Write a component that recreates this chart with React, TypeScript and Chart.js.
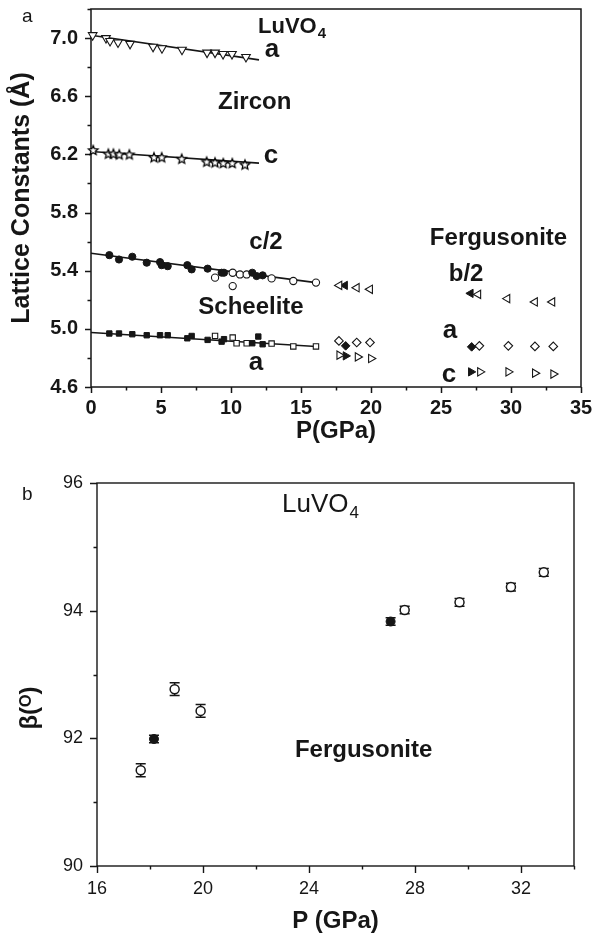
import React, { useEffect, useRef } from 'react';
import { Chart, registerables } from 'chart.js';

Chart.register(...registerables);

const FF = '"Liberation Sans", Arial, Helvetica, sans-serif';
const INK = '#161616';

// ---------- Panel a : lattice constants vs pressure ----------
const xTicksA = [0, 5, 10, 15, 20, 25, 30, 35];
const xMinorA = [2.5, 7.5, 12.5, 17.5, 22.5, 27.5, 32.5];
const yTicksA = [4.6, 5.0, 5.4, 5.8, 6.2, 6.6, 7.0];
const yMinorA = [4.8, 5.2, 5.6, 6.0, 6.4, 6.8, 7.2];

// Zircon phase
const zirconP = [0.12, 1.07, 1.36, 1.93, 2.79, 4.43, 5.07, 6.5, 8.29, 8.86, 9.43, 10.07, 11.07];
const zirconA = [7.02, 7.0, 6.98, 6.97, 6.96, 6.94, 6.93, 6.92, 6.9, 6.9, 6.89, 6.89, 6.87];
const zirconCP = [0.16, 1.24, 1.6, 2.02, 2.74, 4.5, 5.05, 6.48, 8.26, 8.86, 9.45, 10.09, 11.0];
const zirconC = [6.23, 6.205, 6.205, 6.2, 6.2, 6.18, 6.18, 6.17, 6.15, 6.145, 6.14, 6.14, 6.13];

// Scheelite phase
const schC2FilledP = [1.31, 2.0, 2.95, 3.98, 4.93, 5.05, 5.48, 6.88, 7.19, 8.33, 9.33, 9.5, 11.52, 11.83, 12.26];
const schC2Filled = [5.507, 5.477, 5.496, 5.455, 5.459, 5.438, 5.431, 5.438, 5.409, 5.414, 5.386, 5.386, 5.386, 5.363, 5.368];
const schC2OpenP = [8.86, 10.12, 10.12, 10.64, 11.12, 12.9, 14.45, 16.07];
const schC2Open = [5.352, 5.386, 5.294, 5.374, 5.374, 5.347, 5.329, 5.318];
const schAFilledP = [1.31, 2.0, 2.95, 3.98, 4.93, 5.48, 6.88, 7.19, 8.33, 9.33, 9.5, 11.52, 11.95, 12.26];
const schAFilled = [4.968, 4.968, 4.963, 4.956, 4.956, 4.956, 4.935, 4.951, 4.924, 4.912, 4.929, 4.901, 4.947, 4.894];
const schAOpenP = [8.86, 10.12, 10.4, 11.12, 12.9, 14.45, 16.07];
const schAOpen = [4.951, 4.94, 4.901, 4.901, 4.899, 4.879, 4.879];

// Fergusonite phase
const ferB2OpenP = [17.74, 18.98, 19.93, 27.66, 29.74, 31.71, 32.95];
const ferB2Open = [5.299, 5.283, 5.272, 5.237, 5.208, 5.185, 5.185];
const ferB2FilledP = [18.14, 27.12];
const ferB2Filled = [5.299, 5.244];
const ferAOpenP = [17.71, 18.98, 19.93, 27.74, 29.81, 31.71, 33.02];
const ferAOpen = [4.917, 4.906, 4.906, 4.883, 4.883, 4.879, 4.879];
const ferAFilledP = [18.19, 27.19];
const ferAFilled = [4.883, 4.876];
const ferCOpenP = [17.74, 19.05, 20.0, 27.79, 29.81, 31.71, 33.02];
const ferCOpen = [4.819, 4.807, 4.796, 4.704, 4.704, 4.695, 4.689];
const ferCFilledP = [18.19, 27.14];
const ferCFilled = [4.814, 4.704];

// Linear fits
const fitZirconAP = [0, 12];
const fitZirconA = [7.02, 6.85];
const fitZirconCP = [0, 12];
const fitZirconC = [6.22, 6.14];
const fitSchC2P = [0, 16.07];
const fitSchC2 = [5.52, 5.318];
const fitSchAP = [0, 16.07];
const fitSchA = [4.975, 4.879];

// ---------- Panel b : monoclinic angle beta ----------
const xTicksB = [16, 20, 24, 28, 32];
const xMinorB = [18, 22, 26, 30, 34];
const yTicksB = [90, 92, 94, 96];
const yMinorB = [91, 93, 95];

const betaOpenP = [17.65, 18.93, 19.91, 27.61, 29.68, 31.62, 32.86];
const betaOpen = [91.5, 92.77, 92.43, 94.01, 94.13, 94.37, 94.6];
const betaOpenErr = [0.1, 0.1, 0.1, 0.06, 0.06, 0.06, 0.06];
const betaFilledP = [18.15, 27.08];
const betaFilled = [91.99, 93.83];
const betaFilledErr = [0.06, 0.06];

const pts = (xs: number[], ys: number[]) => xs.map((x, i) => ({ x, y: ys[i] }));

function makeStar(r: number) {
  const size = Math.ceil(r * 2 + 4);
  const c = document.createElement('canvas');
  c.width = size;
  c.height = size;
  const g = c.getContext('2d')!;
  const cx = size / 2;
  const cy = size / 2 + 0.5;
  g.beginPath();
  for (let i = 0; i < 10; i++) {
    const ang = -Math.PI / 2 + (i * Math.PI) / 5;
    const rr = i % 2 === 0 ? r : r * 0.45;
    g.lineTo(cx + rr * Math.cos(ang), cy + rr * Math.sin(ang));
  }
  g.closePath();
  g.fillStyle = '#fff';
  g.fill();
  g.strokeStyle = '#000';
  g.lineWidth = 1.25;
  g.stroke();
  return c;
}

const framePlugin = {
  id: 'frame',
  beforeDatasetsDraw(chart: any, _a: any, o: any) {
    const { ctx, chartArea: a } = chart;
    const x = chart.scales.x;
    const y = chart.scales.y;
    ctx.save();
    ctx.strokeStyle = INK;
    ctx.lineWidth = o.lw;
    ctx.strokeRect(a.left, a.top, a.right - a.left, a.bottom - a.top);
    ctx.beginPath();
    const tx = (vals: number[], len: number) => vals.forEach((v) => {
      const p = Math.round(x.getPixelForValue(v)) + 0.5;
      ctx.moveTo(p, a.bottom);
      ctx.lineTo(p, a.bottom + len);
    });
    const ty = (vals: number[], len: number) => vals.forEach((v) => {
      const p = Math.round(y.getPixelForValue(v)) + 0.5;
      ctx.moveTo(a.left, p);
      ctx.lineTo(a.left - len, p);
    });
    tx(o.xMajor, o.major);
    tx(o.xMinor, o.minor);
    ty(o.yMajor, o.major);
    ty(o.yMinor, o.minor);
    ctx.stroke();
    ctx.restore();
  },
};

const errorPlugin = {
  id: 'errbars',
  beforeDatasetsDraw(chart: any) {
    const { ctx } = chart;
    const x = chart.scales.x;
    const y = chart.scales.y;
    ctx.save();
    ctx.strokeStyle = INK;
    ctx.lineWidth = 1.5;
    chart.data.datasets.forEach((ds: any) => {
      if (!ds.errors) return;
      ds.data.forEach((p: any, i: number) => {
        const e = ds.errors[i];
        const px = x.getPixelForValue(p.x);
        const y1 = y.getPixelForValue(p.y + e);
        const y2 = y.getPixelForValue(p.y - e);
        ctx.beginPath();
        ctx.moveTo(px, y1);
        ctx.lineTo(px, y2);
        ctx.moveTo(px - 5, y1);
        ctx.lineTo(px + 5, y1);
        ctx.moveTo(px - 5, y2);
        ctx.lineTo(px + 5, y2);
        ctx.stroke();
      });
    });
    ctx.restore();
  },
};

const textPlugin = {
  id: 'texts',
  afterDraw(chart: any, _a: any, o: any) {
    const { ctx } = chart;
    const x = chart.scales.x;
    const y = chart.scales.y;
    ctx.save();
    ctx.fillStyle = INK;
    ctx.textBaseline = 'alphabetic';
    (o.items || []).forEach((it: any) => {
      const px = it.px !== undefined ? it.px : x.getPixelForValue(it.x);
      const py = it.py !== undefined ? it.py : y.getPixelForValue(it.y);
      ctx.font = it.font;
      ctx.textAlign = it.align || 'left';
      if (it.rot) {
        ctx.save();
        ctx.translate(px, py);
        ctx.rotate(it.rot);
        ctx.textAlign = 'center';
        ctx.fillText(it.t, 0, 0);
        ctx.restore();
      } else {
        ctx.fillText(it.t, px, py);
        if (it.sub) {
          const w = ctx.measureText(it.t).width;
          ctx.font = it.subFont;
          ctx.textAlign = 'left';
          ctx.fillText(it.sub, (it.align === 'center' ? px + w / 2 : px + w) + 1, py + it.subDy);
        }
      }
    });
    ctx.restore();
  },
};

const bold = (s: number) => `bold ${s}px ${FF}`;
const reg = (s: number) => `normal ${s}px ${FF}`;

export default function App() {
  const refA = useRef<HTMLCanvasElement>(null);
  const refB = useRef<HTMLCanvasElement>(null);

  useEffect(() => {
    const star = makeStar(5);
    const open = (data: any, style: any, r: number, rot = 0) => ({
      data, pointStyle: style, pointRadius: r, pointRotation: rot,
      backgroundColor: '#ffffff', borderColor: INK, pointBorderWidth: 1.1, borderWidth: 1.1, clip: false,
    });
    const filled = (data: any, style: any, r: number, rot = 0) => ({
      data, pointStyle: style, pointRadius: r, pointRotation: rot,
      backgroundColor: INK, borderColor: INK, pointBorderWidth: 1, borderWidth: 1, clip: false,
    });
    const fit = (data: any) => ({
      data, showLine: true, pointRadius: 0, borderColor: INK, borderWidth: 1.6, fill: false, clip: false,
    });

    const chartA = new Chart(refA.current!, {
      type: 'scatter',
      data: {
        datasets: [
          open(pts(zirconP, zirconA), 'triangle', 5, 180),
          { ...open(pts(zirconCP, zirconC), star, 5) },
          filled(pts(schC2FilledP, schC2Filled), 'circle', 3.6),
          open(pts(schC2OpenP, schC2Open), 'circle', 3.6),
          filled(pts(schAFilledP, schAFilled), 'rect', 3.8),
          open(pts(schAOpenP, schAOpen), 'rect', 3.8),
          open(pts(ferB2OpenP, ferB2Open), 'triangle', 4.8, 270),
          filled(pts(ferB2FilledP, ferB2Filled), 'triangle', 4.8, 270),
          open(pts(ferAOpenP, ferAOpen), 'rectRot', 4.3),
          filled(pts(ferAFilledP, ferAFilled), 'rectRot', 4.3),
          open(pts(ferCOpenP, ferCOpen), 'triangle', 4.8, 90),
          filled(pts(ferCFilledP, ferCFilled), 'triangle', 4.8, 90),
          fit(pts(fitZirconAP, fitZirconA)),
          fit(pts(fitZirconCP, fitZirconC)),
          fit(pts(fitSchC2P, fitSchC2)),
          fit(pts(fitSchAP, fitSchA)),
        ] as any,
      },
      options: {
        animation: false,
        responsive: false,
        devicePixelRatio: 1,
        layout: { padding: { left: 0, right: 13, top: 9, bottom: 0 } },
        plugins: {
          legend: { display: false },
          tooltip: { enabled: false },
          frame: { lw: 1.5, major: 6, minor: 3.5, xMajor: xTicksA, xMinor: xMinorA, yMajor: yTicksA, yMinor: yMinorA },
          texts: {
            items: [
              { t: 'a', px: 22, py: 22, font: reg(19) },
              { t: 'LuVO', x: 11.93, y: 7.034, font: bold(22), sub: '4', subFont: bold(15), subDy: 5 },
              { t: 'a', x: 12.93, y: 6.869, font: bold(26), align: 'center' },
              { t: 'Zircon', x: 9.07, y: 6.515, font: bold(24) },
              { t: 'c', x: 12.86, y: 6.141, font: bold(26), align: 'center' },
              { t: 'c/2', x: 12.5, y: 5.55, font: bold(24), align: 'center' },
              { t: 'Scheelite', x: 11.43, y: 5.103, font: bold(24), align: 'center' },
              { t: 'a', x: 11.79, y: 4.718, font: bold(26), align: 'center' },
              { t: 'Fergusonite', x: 29.11, y: 5.577, font: bold(24), align: 'center' },
              { t: 'b/2', x: 26.79, y: 5.33, font: bold(24), align: 'center' },
              { t: 'a', x: 25.64, y: 4.938, font: bold(26), align: 'center' },
              { t: 'c', x: 25.57, y: 4.636, font: bold(26), align: 'center' },
            ],
          },
        } as any,
        scales: {
          x: {
            type: 'linear', min: 0, max: 35,
            afterBuildTicks: (s: any) => { s.ticks = xTicksA.map((v) => ({ value: v })); },
            afterFit: (s: any) => { s.height = 73; s.paddingLeft = 0; s.paddingRight = 0; },
            grid: { display: false, drawTicks: false },
            border: { display: false },
            ticks: { padding: 9, color: INK, autoSkip: false, maxRotation: 0, font: { family: FF, size: 20, weight: 'bold' } },
            title: { display: true, text: 'P(GPa)', color: INK, font: { family: FF, size: 24, weight: 'bold' }, padding: { top: 0, bottom: 14 } },
          },
          y: {
            type: 'linear', min: 4.6, max: 7.2,
            afterBuildTicks: (s: any) => { s.ticks = yTicksA.map((v) => ({ value: v })); },
            afterFit: (s: any) => { s.width = 91; s.paddingTop = 0; s.paddingBottom = 0; },
            grid: { display: false, drawTicks: false },
            border: { display: false },
            ticks: { padding: 13, color: INK, callback: (v: any) => Number(v).toFixed(1), font: { family: FF, size: 20, weight: 'bold' } },
            title: { display: true, text: 'Lattice Constants (Å)', color: INK, font: { family: FF, size: 25, weight: 'bold' }, padding: { top: 7, bottom: 0 } },
          },
        } as any,
      },
      plugins: [framePlugin, textPlugin] as any,
    });

    const chartB = new Chart(refB.current!, {
      type: 'scatter',
      data: {
        datasets: [
          { ...open(pts(betaOpenP, betaOpen), 'circle', 4.5), pointBorderWidth: 1.5, errors: betaOpenErr },
          { ...filled(pts(betaFilledP, betaFilled), 'circle', 4.5), errors: betaFilledErr },
        ] as any,
      },
      options: {
        animation: false,
        responsive: false,
        devicePixelRatio: 1,
        layout: { padding: { left: 0, right: 20, top: 23, bottom: 0 } },
        plugins: {
          legend: { display: false },
          tooltip: { enabled: false },
          frame: { lw: 1.4, major: 7, minor: 3.5, xMajor: xTicksB, xMinor: xMinorB, yMajor: yTicksB, yMinor: yMinorB },
          texts: {
            items: [
              { t: 'b', px: 22, py: 40, font: reg(19) },
              { t: 'LuVO', x: 22.98, y: 95.55, font: reg(26), sub: '4', subFont: reg(17), subDy: 6 },
              { t: 'Fergusonite', x: 23.47, y: 91.71, font: bold(24) },
              { t: 'β(ᴼ)', px: 37, py: 248, font: bold(24), rot: -Math.PI / 2 },
            ],
          },
        } as any,
        scales: {
          x: {
            type: 'linear', min: 16, max: 34,
            afterBuildTicks: (s: any) => { s.ticks = xTicksB.map((v) => ({ value: v })); },
            afterFit: (s: any) => { s.height = 75; s.paddingLeft = 0; s.paddingRight = 0; },
            grid: { display: false, drawTicks: false },
            border: { display: false },
            ticks: { padding: 12, color: INK, autoSkip: false, maxRotation: 0, font: { family: FF, size: 18 } },
            title: { display: true, text: 'P (GPa)', color: INK, font: { family: FF, size: 24, weight: 'bold' }, padding: { top: 0, bottom: 5 } },
          },
          y: {
            type: 'linear', min: 90, max: 96,
            afterBuildTicks: (s: any) => { s.ticks = yTicksB.map((v) => ({ value: v })); },
            afterFit: (s: any) => { s.width = 97; s.paddingTop = 0; s.paddingBottom = 0; },
            grid: { display: false, drawTicks: false },
            border: { display: false },
            ticks: { padding: 14, color: INK, font: { family: FF, size: 18 } },
          },
        } as any,
      },
      plugins: [framePlugin, errorPlugin, textPlugin] as any,
    });

    return () => {
      chartA.destroy();
      chartB.destroy();
    };
  }, []);

  return (
    <div style={{ position: 'absolute', left: 0, top: 0, width: 594, height: 941, background: '#fff' }}>
      <canvas ref={refA} width={594} height={460} style={{ position: 'absolute', left: 0, top: 0, display: 'block' }} />
      <canvas ref={refB} width={594} height={481} style={{ position: 'absolute', left: 0, top: 460, display: 'block' }} />
    </div>
  );
}
